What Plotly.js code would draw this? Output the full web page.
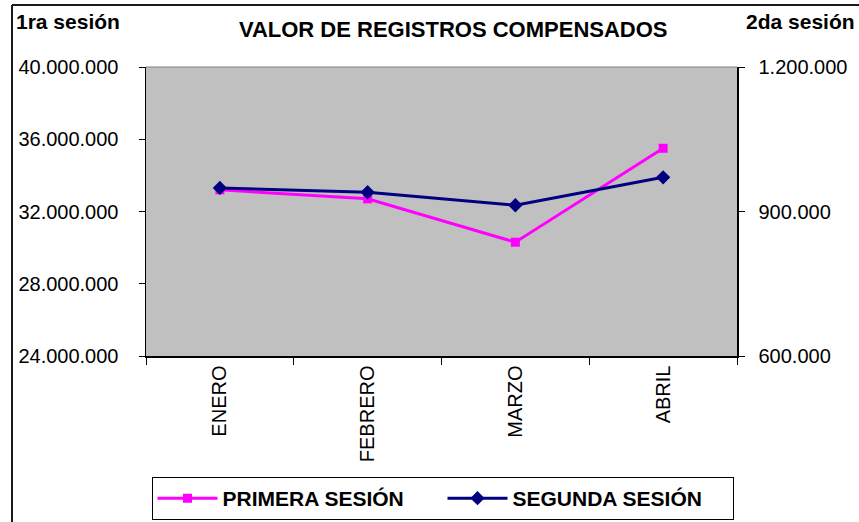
<!DOCTYPE html>
<html>
<head>
<meta charset="utf-8">
<script src="https://cdn.plot.ly/plotly-3.0.1.min.js"></script>
<style>html,body{margin:0;padding:0;background:#fff;}#chart{width:859px;height:522px;}</style>
</head>
<body>
<div id="chart"></div>
<script>
const meses = ["ENERO", "FEBRERO", "MARZO", "ABRIL"];
const primeraSesion = [33200000, 32700000, 30300000, 35500000];
const segundaSesion = [949000, 940000, 913000, 971000];
const nombrePrimera = "PRIMERA SESIÓN";
const nombreSegunda = "SEGUNDA SESIÓN";

const F = "Liberation Sans, Arial, sans-serif";
const L = 146, R = 737, T = 67, B = 356;
const px = x => (x - L) / (R - L);
const py = y => (B - y) / (B - T);

const traces = [
  {x: meses, y: primeraSesion, name: nombrePrimera, type: 'scatter', mode: 'lines+markers',
   line: {color: '#FF00FF', width: 3}, marker: {symbol: 'square', size: 9, color: '#FF00FF'}, yaxis: 'y'},
  {x: meses, y: segundaSesion, name: nombreSegunda, type: 'scatter', mode: 'lines+markers',
   line: {color: '#000080', width: 3}, marker: {symbol: 'diamond', size: 11, color: '#000080'}, yaxis: 'y2'}
];

const layout = {
  width: 859, height: 522,
  margin: {l: L, r: 859 - R, t: T, b: 522 - B, pad: 0, autoexpand: false},
  paper_bgcolor: '#ffffff', plot_bgcolor: '#C0C0C0',
  separators: ',.',
  font: {family: F, size: 20, color: '#000'},
  title: {text: '<b>VALOR DE REGISTROS COMPENSADOS</b>', font: {family: F, size: 22, color: '#000'},
          x: 446.5 / 859, xanchor: 'center', xref: 'paper', y: 1 - 29 / 522, yanchor: 'middle', yref: 'container'},
  showlegend: true,
  legend: {orientation: 'h', x: px(442.5), xanchor: 'center', y: py(520), yanchor: 'bottom',
           bordercolor: '#000', borderwidth: 1, bgcolor: '#fff', entrywidth: 215, entrywidthmode: 'pixels',
           itemwidth: 60,
           font: {family: F, size: 21, color: '#000', weight: 'bold'}},
  xaxis: {type: 'category', range: [-0.5, 3.5], tickson: 'boundaries', ticks: 'outside', ticklen: 7,
          tickcolor: '#000', tickangle: -90, showline: true, linecolor: '#000', linewidth: 1.5,
          showgrid: false, zeroline: false, tickfont: {family: F, size: 20}, fixedrange: true},
  yaxis: {range: [24000000, 40000000], dtick: 4000000, tickformat: ',d', ticks: 'outside', ticklen: 6,
          tickcolor: '#000', showline: true, linecolor: '#000', linewidth: 1.5, showgrid: false,
          zeroline: false, ticklabelstandoff: 16, tickfont: {family: F, size: 20}},
  yaxis2: {range: [600000, 1200000], dtick: 300000, tickformat: ',d', overlaying: 'y', side: 'right',
           ticks: 'outside', ticklen: 6, tickcolor: '#000', showline: true, linecolor: '#000', linewidth: 1.5,
           showgrid: false, zeroline: false, ticklabelstandoff: 10, tickfont: {family: F, size: 20}},
  annotations: [
    {text: '<b>1ra sesión</b>', xref: 'paper', yref: 'paper', x: px(14), y: py(21), xanchor: 'left', yanchor: 'middle',
     showarrow: false, font: {family: F, size: 21, color: '#000'}},
    {text: '<b>2da sesión</b>', xref: 'paper', yref: 'paper', x: px(857), y: py(21), xanchor: 'right', yanchor: 'middle',
     showarrow: false, font: {family: F, size: 21, color: '#000'}}
  ],
  shapes: [
    {type: 'line', xref: 'paper', yref: 'paper', x0: px(12), x1: px(870), y0: py(5), y1: py(5), line: {color: '#1a1a1a', width: 2}},
    {type: 'line', xref: 'paper', yref: 'paper', x0: px(12), x1: px(12), y0: py(5), y1: py(540), line: {color: '#1a1a1a', width: 2}},
    {type: 'line', xref: 'paper', yref: 'paper', x0: 0, x1: 1, y0: 1, y1: 1, line: {color: '#808080', width: 1}}
  ]
};

Plotly.newPlot('chart', traces, layout, {displayModeBar: false, staticPlot: true});
</script>
</body>
</html>
